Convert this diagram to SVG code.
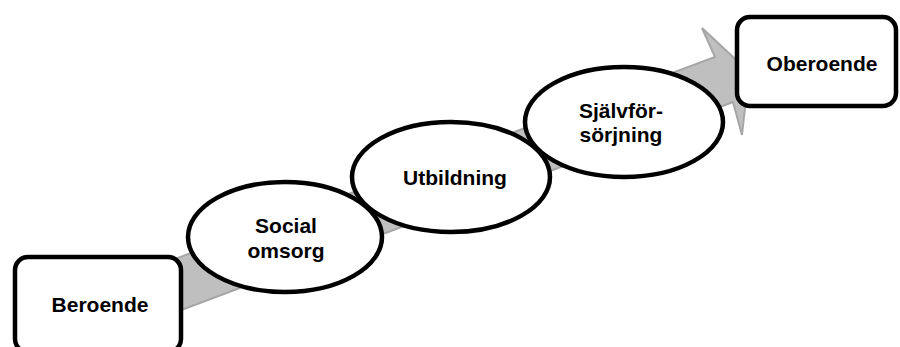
<svg xmlns="http://www.w3.org/2000/svg" width="900" height="347" viewBox="0 0 900 347">
  <style>
    .box { fill: #ffffff; stroke: #000000; stroke-width: 4.5; }
    .oval { fill: #ffffff; stroke: #000000; stroke-width: 4.5; }
    .arrow { fill: #bfbfbf; stroke: #a6a6a6; stroke-width: 2; stroke-linejoin: miter; }
    .lbl { font-family: "Liberation Sans", Arial, sans-serif; font-weight: bold; font-size: 21px; fill: #000000; text-anchor: middle; }
  </style>
  <rect width="900" height="347" fill="#ffffff"/>
  <g id="connectors">
    <polygon class="arrow" points="60,302 715,57 702,28 749,72 742,135 733,102 78,349"/>
  </g>
  <g id="node-beroende">
    <rect class="box" x="15" y="257" width="166" height="95" rx="13" ry="13"/>
    <text class="lbl" x="100" y="312">Beroende</text>
  </g>
  <g id="node-social">
    <ellipse class="oval" cx="285" cy="237" rx="97" ry="55"/>
    <text class="lbl" x="286" y="233">Social</text>
    <text class="lbl" x="286" y="258">omsorg</text>
  </g>
  <g id="node-utbildning">
    <ellipse class="oval" cx="451" cy="177" rx="99" ry="55"/>
    <text class="lbl" x="455" y="185">Utbildning</text>
  </g>
  <g id="node-sjalvforsorjning">
    <ellipse class="oval" cx="624" cy="122" rx="99" ry="55"/>
    <text class="lbl" x="621" y="118">Självför-</text>
    <text class="lbl" x="621" y="142">sörjning</text>
  </g>
  <g id="node-oberoende">
    <rect class="box" x="737" y="17" width="159" height="89" rx="13" ry="13"/>
    <text class="lbl" x="822" y="71">Oberoende</text>
  </g>
</svg>
